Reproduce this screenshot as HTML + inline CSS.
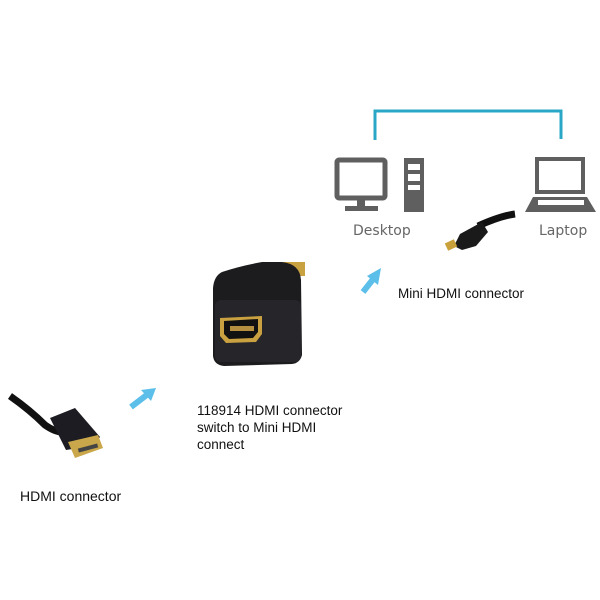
<!DOCTYPE html>
<html><head><style>
body{margin:0;background:#fff}
svg{display:block}
text{font-family:"Liberation Sans",sans-serif}
</style></head><body>
<svg width="600" height="600" viewBox="0 0 600 600">
<rect width="600" height="600" fill="#fff"/>
<!-- bracket -->
<polyline points="375,140 375,111 561,111 561,139" fill="none" stroke="#2aa7c6" stroke-width="3"/>
<!-- desktop -->
<rect x="337" y="160" width="48" height="38" rx="2" fill="none" stroke="#5f5f5f" stroke-width="5"/>
<rect x="357" y="199" width="8" height="8" fill="#5f5f5f"/>
<rect x="345" y="206" width="33" height="5" fill="#5f5f5f"/>
<rect x="404" y="158" width="20" height="54" fill="#5f5f5f"/>
<rect x="408" y="164" width="12" height="6" fill="#fff"/>
<rect x="408" y="174" width="12" height="7" fill="#fff"/>
<rect x="408" y="185" width="12" height="5" fill="#fff"/>
<text x="353" y="235" font-size="14" fill="#666" style="font-family:'DejaVu Sans',sans-serif">Desktop</text>
<!-- laptop -->
<rect x="537" y="159" width="46" height="33" fill="none" stroke="#5f5f5f" stroke-width="4"/>
<polygon points="533,197 587,197 596,212 525,212" fill="#5f5f5f"/>
<rect x="538" y="200" width="46" height="5" fill="#fff"/>
<text x="539" y="235" font-size="14" fill="#666" style="font-family:'DejaVu Sans',sans-serif">Laptop</text>
<!-- mini hdmi cable -->
<path d="M515,214 Q500,216 478,226" stroke="#111" stroke-width="7" fill="none"/>
<path d="M482,222 L460,234 L454,246 L462,250 L476,246 L488,232 Z" fill="#1a1a1a"/>
<rect x="446" y="241" width="10" height="8" fill="#c9a13a" transform="rotate(-25 451 245)"/>
<!-- arrows -->
<line x1="131" y1="407" x2="148" y2="394" stroke="#5bbfea" stroke-width="6"/>
<polygon points="156,388 141,390 151,401" fill="#5bbfea"/>
<line x1="363" y1="292" x2="374" y2="278" stroke="#5bbfea" stroke-width="6"/>
<polygon points="381,268 367,276 378,285" fill="#5bbfea"/>
<text x="398" y="298" font-size="13.5" fill="#111">Mini HDMI connector</text>
<!-- adapter -->
<rect x="283" y="262" width="22" height="14" fill="#c8a140"/>
<path d="M222,272 Q240,266 262,262 L282,262 Q300,264 301,280 L302,355 Q300,363 292,364 L224,366 Q214,365 213,356 L213,288 Q214,276 222,272 Z" fill="#1c1c1e"/>
<rect x="215" y="300" width="86" height="62" rx="6" fill="#26262a"/>
<path d="M220,318 L262,316 L262,334 L256,342 L226,343 L220,336 Z" fill="#c9a140"/>
<path d="M224,321 L258,319 L258,332 L253,338 L229,339 L224,334 Z" fill="#111"/>
<rect x="230" y="326" width="24" height="5" fill="#b59040"/>
<text x="197" y="415" font-size="13.5" fill="#111">118914 HDMI connector</text>
<text x="197" y="432" font-size="13.5" fill="#111">switch to Mini HDMI</text>
<text x="197" y="449" font-size="13.5" fill="#111">connect</text>
<!-- hdmi plug -->
<path d="M10,396 Q30,410 45,425 Q55,432 62,432" stroke="#111" stroke-width="7" fill="none"/>
<path d="M50,418 L75,408 L100,437 L92,446 L66,450 Z" fill="#1c1c22"/>
<path d="M68,442 L98,435 L103,448 L75,458 Z" fill="#c9a74a"/>
<rect x="78" y="446" width="20" height="4" fill="#444" transform="rotate(-15 88 448)"/>
<text x="20" y="501" font-size="14" fill="#111">HDMI connector</text>
</svg>
</body></html>
